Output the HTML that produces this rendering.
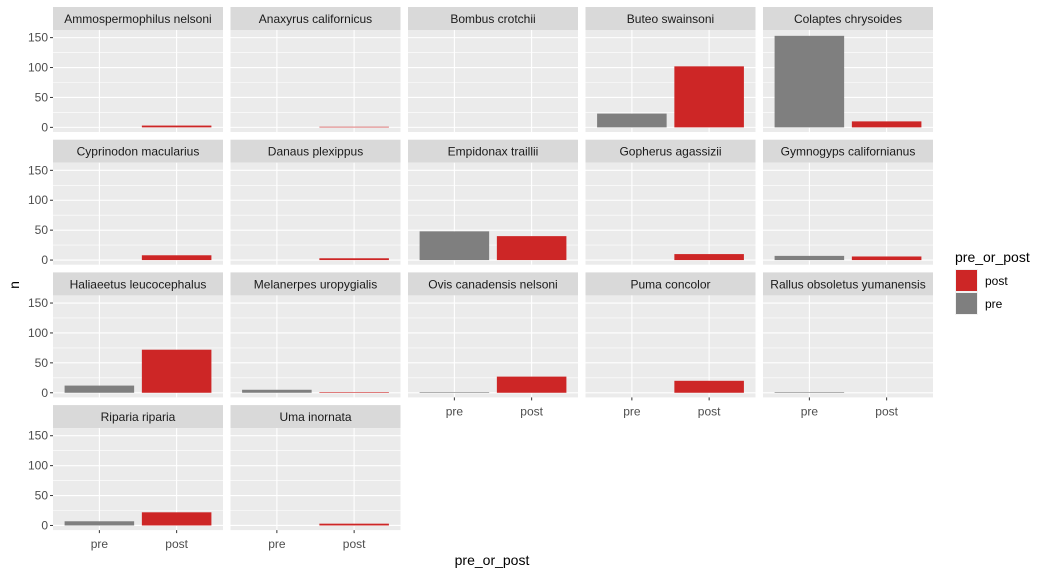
<!DOCTYPE html>
<html><head><meta charset="utf-8"><style>
body{margin:0;background:#fff;font-family:"Liberation Sans",Arial,sans-serif}
</style></head><body>
<svg id="c" width="1048" height="575" xmlns="http://www.w3.org/2000/svg" font-family="Liberation Sans, Arial, sans-serif"></svg>
<script>
const species=["Ammospermophilus nelsoni","Anaxyrus californicus","Bombus crotchii","Buteo swainsoni","Colaptes chrysoides","Cyprinodon macularius","Danaus plexippus","Empidonax traillii","Gopherus agassizii","Gymnogyps californianus","Haliaeetus leucocephalus","Melanerpes uropygialis","Ovis canadensis nelsoni","Puma concolor","Rallus obsoletus yumanensis","Riparia riparia","Uma inornata"];
const preVals=[null,null,null,23,153,null,null,48,null,7,12,5,1,null,1,7,null];
const postVals=[3,1,null,102,10,8,3,40,10,6,72,1,27,20,null,22,3];
const yTicks=[0,50,100,150];
const xCats=["pre","post"];
const NS="http://www.w3.org/2000/svg";
const svg=document.getElementById('c');
function el(t,a,p){const e=document.createElementNS(NS,t);for(const k in a)e.setAttribute(k,a[k]);(p||svg).appendChild(e);return e;}
const PW=170,SH=23,PH=102,ymin=-7.75,ymax=162.75;
function colX(c){return 53+177.5*c;}
function rowY(r){return 7+132.7*r;}
function yMap(r,v){return rowY(r)+SH+(ymax-v)*(PH/(ymax-ymin));}
function xMap(c,i){return colX(c)+(0.6+i)*(PW/2.2);}
const bw=0.9*PW/2.2;
species.forEach((s,k)=>{
  const c=k%5,r=Math.floor(k/5),x0=colX(c),y0=rowY(r);
  const g=el('g',{});
  
  
  const strip=el('rect',{x:x0,y:y0,width:PW,height:SH,fill:'#d9d9d9'},g);
  
  const st=el('text',{x:x0+PW/2,y:y0+16,'text-anchor':'middle','font-size':12,fill:'#1a1a1a'},g);st.textContent=s;
  
  const bg=el('rect',{x:x0,y:y0+SH,width:PW,height:PH,fill:'#ebebeb'},g);
  
  [25,75,125].forEach(v=>el('line',{x1:x0,x2:x0+PW,y1:yMap(r,v),y2:yMap(r,v),stroke:'#fff','stroke-width':0.6},g));
  yTicks.forEach(v=>el('line',{x1:x0,x2:x0+PW,y1:yMap(r,v),y2:yMap(r,v),stroke:'#fff','stroke-width':1.1},g));
  [0,1].forEach(i=>el('line',{x1:xMap(c,i),x2:xMap(c,i),y1:y0+SH,y2:y0+SH+PH,stroke:'#fff','stroke-width':1.1},g));
  [[preVals[k],0,'#7f7f7f','pre'],[postVals[k],1,'#cd2626','post']].forEach(([v,i,col,nm])=>{
    if(v==null)return;
    const b=el('rect',{x:xMap(c,i)-bw/2,y:yMap(r,v),width:bw,height:yMap(r,0)-yMap(r,v),fill:col},g);
    
  });
  if(c==0){yTicks.forEach(v=>{
    el('line',{x1:x0-3,x2:x0,y1:yMap(r,v),y2:yMap(r,v),stroke:'#333'},g);
    const t=el('text',{x:x0-5,y:yMap(r,v)+4,'text-anchor':'end','font-size':12,fill:'#4d4d4d'},g);t.textContent=v;
    
  });}
  const bottom=(k+5>=species.length);
  if(bottom){xCats.forEach((l,i)=>{
    el('line',{x1:xMap(c,i),x2:xMap(c,i),y1:y0+SH+PH,y2:y0+SH+PH+3,stroke:'#333'},g);
    const t=el('text',{x:xMap(c,i),y:y0+SH+PH+18,'text-anchor':'middle','font-size':12,fill:'#4d4d4d'},g);t.textContent=l;
    
  });}
});
const xt=el('text',{x:492,y:565,'text-anchor':'middle','font-size':14,fill:'#000'});xt.textContent='pre_or_post';

const yt=el('text',{x:0,y:0,transform:'translate(19,285) rotate(-90)','text-anchor':'middle','font-size':14,fill:'#000'});yt.textContent='n';

const lg=el('g',{});
const lt=el('text',{x:955,y:262,'font-size':14,fill:'#000'},lg);lt.textContent='pre_or_post';

[['post','#cd2626',269],['pre','#7f7f7f',292]].forEach(([n,col,y])=>{
  el('rect',{x:955,y:y,width:23,height:23,fill:'#f2f2f2'},lg);
  const k=el('rect',{x:956,y:y+1,width:21,height:21,fill:col},lg);
  
  const t=el('text',{x:985,y:y+16,'font-size':12,fill:'#000'},lg);t.textContent=n;
  
});
</script>
</body></html>
